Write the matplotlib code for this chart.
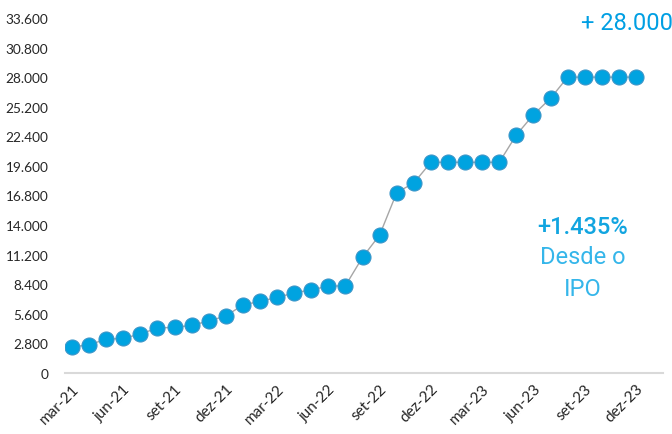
import matplotlib
matplotlib.use("Agg")
import matplotlib.pyplot as plt

months = ["mar-21", "abr-21", "mai-21", "jun-21", "jul-21", "ago-21", "set-21", "out-21", "nov-21",
          "dez-21", "jan-22", "fev-22", "mar-22", "abr-22", "mai-22", "jun-22", "jul-22", "ago-22",
          "set-22", "out-22", "nov-22", "dez-22", "jan-23", "fev-23", "mar-23", "abr-23", "mai-23",
          "jun-23", "jul-23", "ago-23", "set-23", "out-23", "nov-23", "dez-23"]
values = [2450, 2680, 3190, 3280, 3690, 4260, 4320, 4510, 4920, 5400, 6440, 6780, 7160, 7570,
          7890, 8200, 8270, 10950, 13060, 17070, 17990, 19940, 19940, 19940, 19940, 19940,
          22530, 24450, 26000, 28000, 28000, 28000, 28000, 28000]
yticks = [0, 2800, 5600, 8400, 11200, 14000, 16800, 19600, 22400, 25200, 28000, 30800, 33600]
ytick_labels = ["0", "2.800", "5.600", "8.400", "11.200", "14.000", "16.800", "19.600",
                "22.400", "25.200", "28.000", "30.800", "33.600"]

fig = plt.figure(figsize=(6.72, 4.35), dpi=100)
ax = fig.add_axes([65/672, (435-374)/435, (663-65)/672, (374-19)/435])

x = list(range(len(values)))
ax.plot(x, values, color="#a6a6a6", lw=1.0, zorder=1)
ax.plot(x, values, ls="none", marker="o", ms=10.8, mfc="#00a3e0", mec="#3a95c8", mew=0.8, zorder=2)

ax.set_xlim(-0.41, 34.58)
ax.set_ylim(0, 33600)
ax.set_yticks(yticks)
ax.set_yticklabels(ytick_labels, fontsize=9.8, color="#262626", family="Lato")
ax.set_xticks(x[::3])
ax.set_xticklabels(months[::3], rotation=45, ha="right", rotation_mode="anchor",
                   fontsize=11, color="#262626", family="Lato")
ax.tick_params(axis="both", length=0)
ax.tick_params(axis="y", pad=12)
ax.tick_params(axis="x", pad=6)
for s in ["top", "right", "left"]:
    ax.spines[s].set_visible(False)
ax.spines["bottom"].set_color("#d9d9d9")
ax.spines["bottom"].set_linewidth(1.5)

fig.text(627/672, 1 - 23.5/435, "+ 28.000", ha="center", va="center", fontsize=17,
         color="#009fe3", family="Roboto")
fig.text(583/672, 1 - 228/435, "+1.435%", ha="center", va="center", fontsize=17,
         color="#12a5e0", family="Roboto", fontweight="medium")
fig.text(583/672, 1 - 258/435, "Desde o", ha="center", va="center", fontsize=17,
         color="#35b6ea", family="Roboto")
fig.text(583/672, 1 - 290/435, "IPO", ha="center", va="center", fontsize=17,
         color="#35b6ea", family="Roboto")

fig.savefig("out.png", dpi=100)
